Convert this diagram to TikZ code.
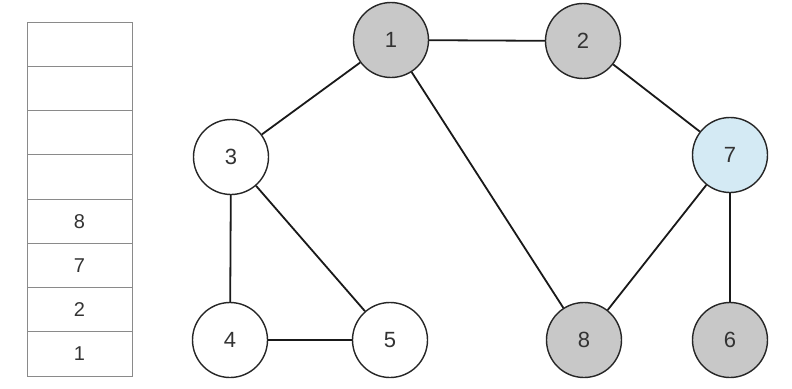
\documentclass[tikz,border=0pt]{standalone}
\usepackage{fontspec}
\setmainfont{Liberation Sans}
\definecolor{vgray}{HTML}{C8C8C8}
\definecolor{vblue}{HTML}{D4EAF4}
\definecolor{cellline}{HTML}{8A8A8A}
\begin{document}
\begin{tikzpicture}[x=1pt,y=-1pt,
  vert/.style={circle,draw=black!85,line width=1.4pt,minimum size=75pt,inner sep=0pt,font=\fontsize{22}{26}\selectfont,text=black!80},
  edge/.style={line width=1.8pt,black!90},
  cell/.style={draw=cellline,line width=1pt,minimum width=105pt,minimum height=44.25pt,inner sep=0pt,font=\fontsize{20}{24}\selectfont,text=black!80}]
\useasboundingbox (0,0) rectangle (792,388);
% stack
\foreach \i/\t in {0/,1/,2/,3/,4/8,5/7,6/2,7/1}{
  \node[cell] (c\i) at (79.5,{22+44.25*\i+22.125}) {\t};
}
% vertices
\node[vert,fill=vgray] (n1) at (391,40) {1};
\node[vert,fill=vgray] (n2) at (583,41) {2};
\node[vert,fill=white] (n3) at (231,157) {3};
\node[vert,fill=vblue] (n7) at (730,155) {7};
\node[vert,fill=white] (n4) at (230,340) {4};
\node[vert,fill=white] (n5) at (390,340) {5};
\node[vert,fill=vgray] (n8) at (584,340) {8};
\node[vert,fill=vgray] (n6) at (730,340) {6};
% edges
\draw[edge] (n1) -- (n2);
\draw[edge] (n1) -- (n3);
\draw[edge] (n1) -- (n8);
\draw[edge] (n2) -- (n7);
\draw[edge] (n3) -- (n4);
\draw[edge] (n3) -- (n5);
\draw[edge] (n4) -- (n5);
\draw[edge] (n7) -- (n8);
\draw[edge] (n7) -- (n6);
\end{tikzpicture}
\end{document}
